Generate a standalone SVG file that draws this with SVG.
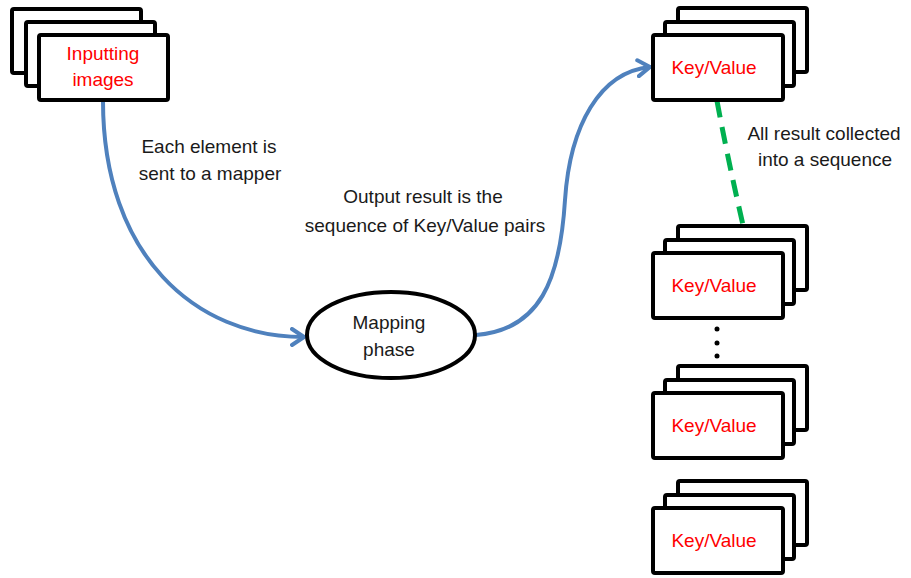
<svg xmlns="http://www.w3.org/2000/svg" width="911" height="578" viewBox="0 0 911 578">
  <style>
    .card { fill: #fff; stroke: #000; stroke-width: 4; }
    .red { fill: #ff0000; font-family: "Liberation Sans", Arial, sans-serif; font-size: 19px; text-anchor: middle; }
    .lbl { fill: #1a1a1a; font-family: "Liberation Sans", Arial, sans-serif; font-size: 19px; text-anchor: middle; }
    .flow { fill: none; stroke: #4f81bd; stroke-width: 4; stroke-linecap: round; }
    .seq { fill: none; stroke: #00b050; stroke-width: 5; stroke-dasharray: 17 10; }
  </style>
  <defs>
    <marker id="open-arrow" markerUnits="userSpaceOnUse" viewBox="-14 -10 16 20" refX="0" refY="0" markerWidth="16" markerHeight="20" orient="auto">
      <path d="M-12,-8 L0,0 L-12,8" fill="none" stroke="#4f81bd" stroke-width="4" stroke-linecap="round" stroke-linejoin="round"/>
    </marker>
    <!-- three stacked cards, front card at origin -->
    <g id="stack-right">
      <rect class="card" x="25" y="-27" width="129" height="64" rx="2"/>
      <rect class="card" x="12" y="-13" width="129" height="64" rx="2"/>
      <rect class="card" x="0" y="0" width="130" height="65" rx="2"/>
    </g>
  </defs>

  <rect width="911" height="578" fill="#fff"/>

  <!-- connectors -->
  <g id="connectors">
    <path class="flow" d="M103,101 C103,255 195,337 304,337" marker-end="url(#open-arrow)"/>
    <path class="flow" d="M476,335 C540,330 560,280 565,200 C570,125 600,72 650,67" marker-end="url(#open-arrow)"/>
    <path class="seq" d="M717,101 Q728,160 743,225"/>
  </g>

  <!-- source images -->
  <g id="inputting-images">
    <rect class="card" x="12" y="9" width="129" height="64" rx="2"/>
    <rect class="card" x="26" y="22" width="129" height="64" rx="2"/>
    <rect class="card" x="39" y="35" width="129" height="65" rx="2"/>
    <text class="red" x="103" y="60">Inputting</text>
    <text class="red" x="103" y="86">images</text>
  </g>

  <!-- mapper -->
  <g id="mapping-phase">
    <ellipse cx="391" cy="335" rx="84" ry="43" fill="#fff" stroke="#000" stroke-width="4"/>
    <text class="lbl" x="389" y="329">Mapping</text>
    <text class="lbl" x="389" y="356">phase</text>
  </g>

  <!-- key/value outputs -->
  <g id="kv-1">
    <use href="#stack-right" x="653" y="35"/>
    <text class="red" x="714" y="74">Key/Value</text>
  </g>
  <g id="kv-2">
    <use href="#stack-right" x="653" y="253"/>
    <text class="red" x="714" y="292">Key/Value</text>
  </g>
  <g id="kv-ellipsis">
    <circle cx="717" cy="329" r="2.5" fill="#000"/>
    <circle cx="717" cy="343" r="2.5" fill="#000"/>
    <circle cx="717" cy="356" r="2.5" fill="#000"/>
  </g>
  <g id="kv-3">
    <use href="#stack-right" x="653" y="393"/>
    <text class="red" x="714" y="432">Key/Value</text>
  </g>
  <g id="kv-4">
    <use href="#stack-right" x="653" y="508"/>
    <text class="red" x="714" y="547">Key/Value</text>
  </g>

  <!-- edge labels -->
  <g id="labels">
    <text class="lbl" x="209" y="153">Each element is</text>
    <text class="lbl" x="210" y="180">sent to a mapper</text>
    <text class="lbl" x="423" y="203">Output result is the</text>
    <text class="lbl" x="425" y="232">sequence of Key/Value pairs</text>
    <text class="lbl" x="824" y="140">All result collected</text>
    <text class="lbl" x="825" y="166">into a sequence</text>
  </g>
</svg>
